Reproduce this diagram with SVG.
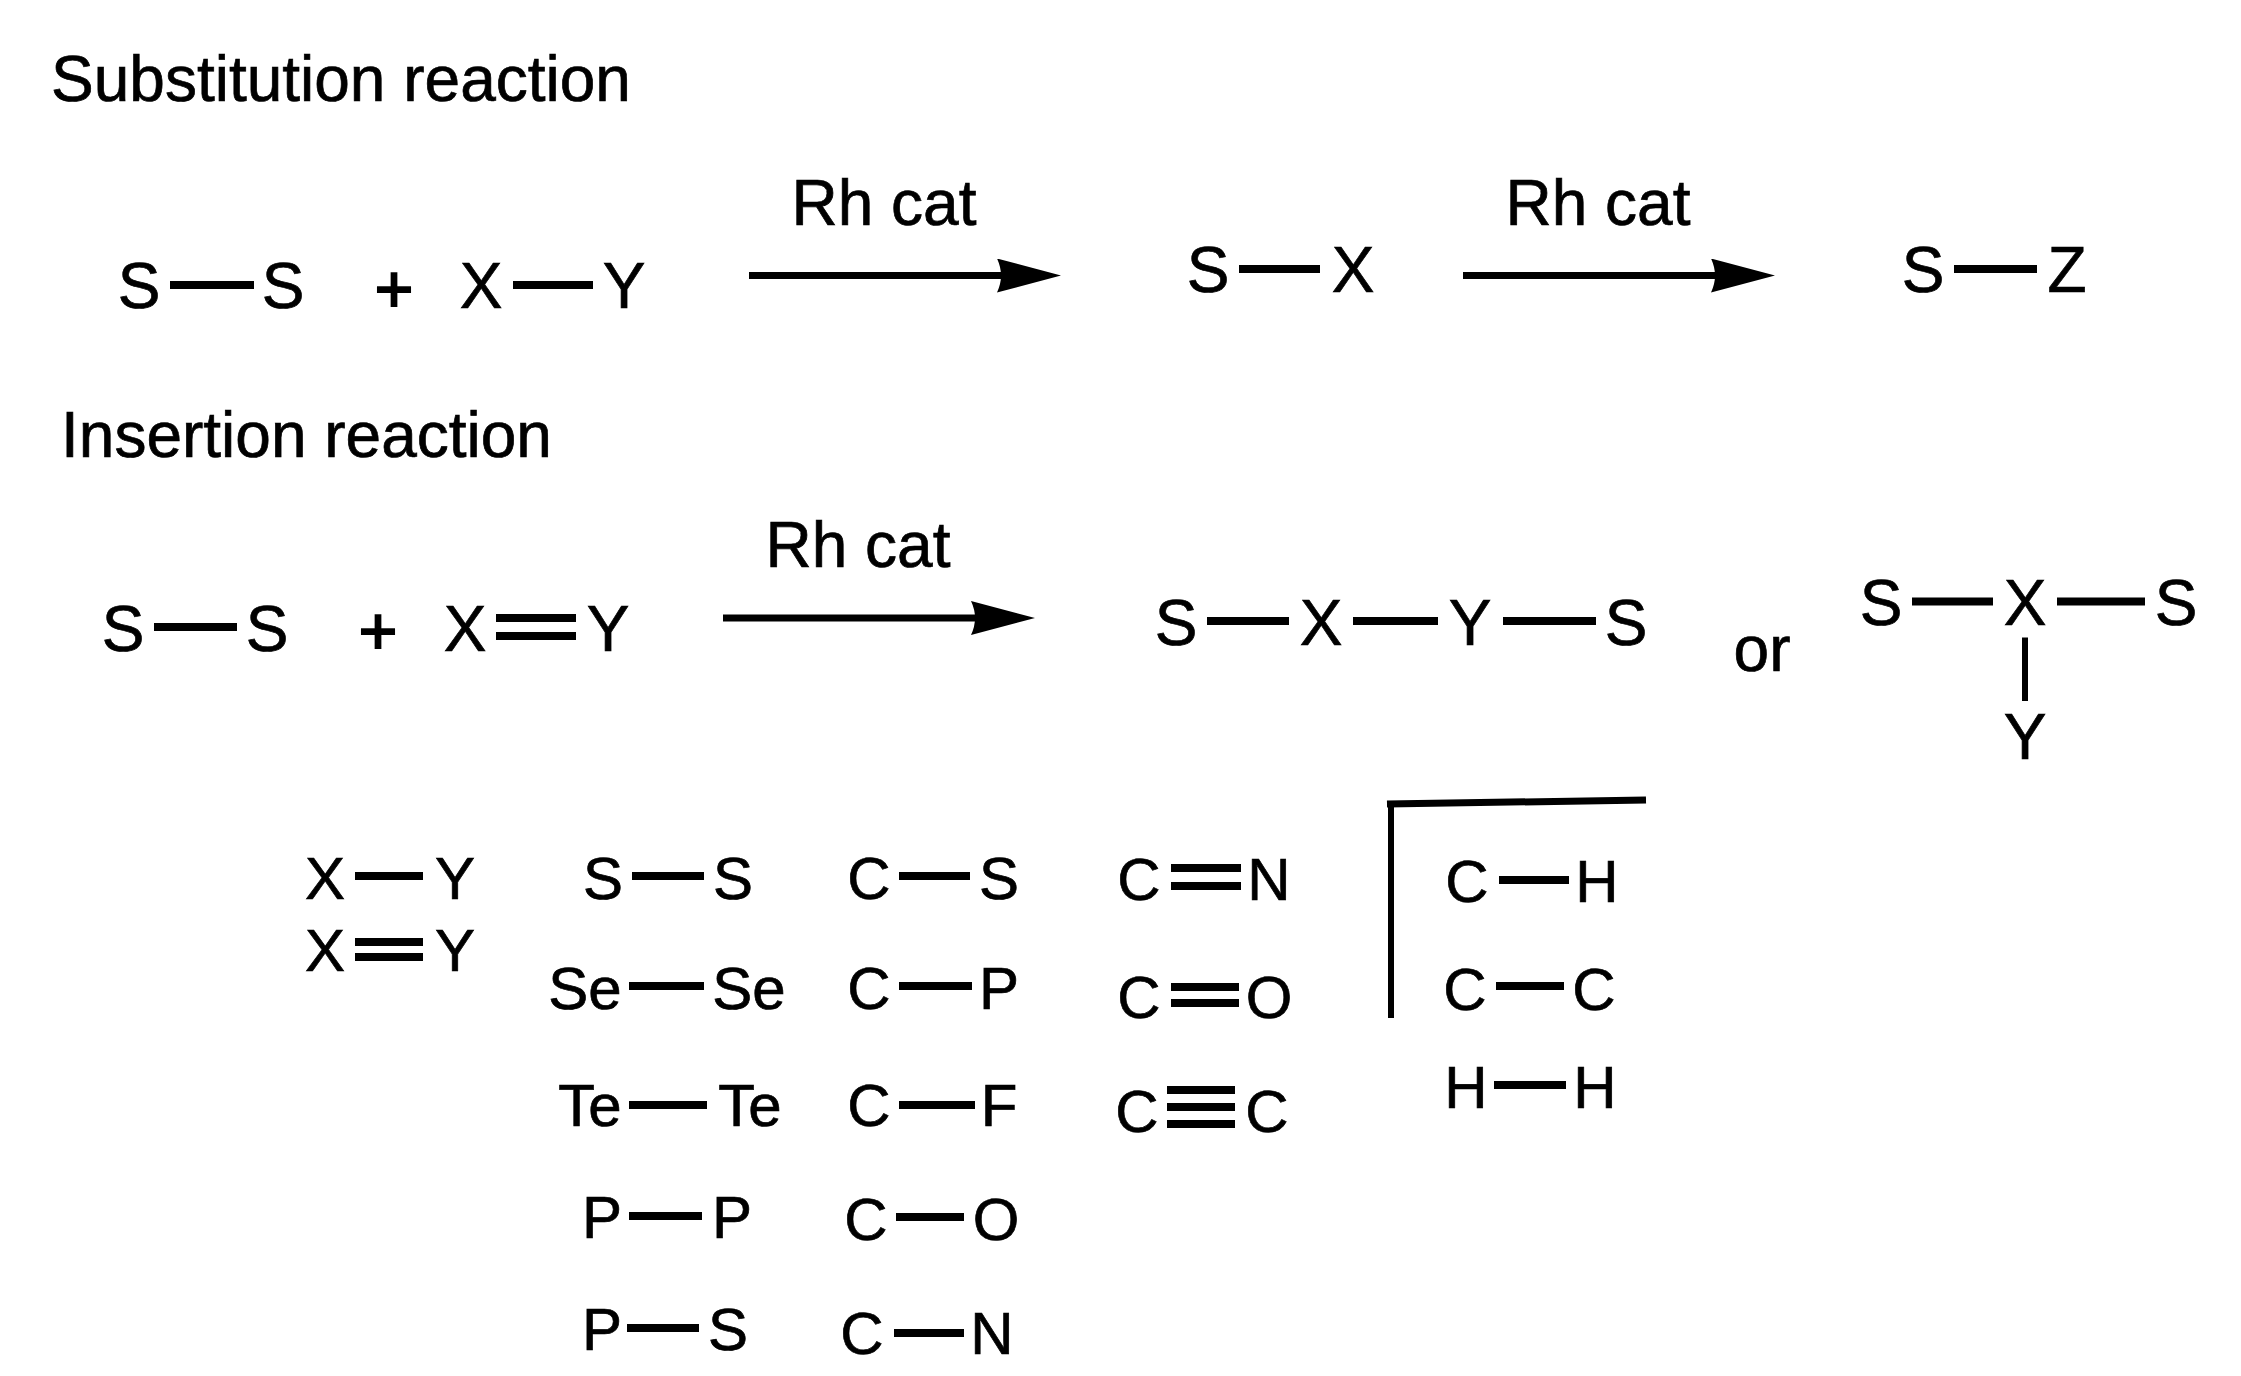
<svg xmlns="http://www.w3.org/2000/svg" width="2241" height="1376" viewBox="0 0 2241 1376">
<style>
text{font-family:"Liberation Sans",Arial,sans-serif;font-size:64px;fill:#000;stroke:#000;stroke-width:.7px;text-anchor:middle}
.title{text-anchor:start}
.low text{font-size:60px}
.b{stroke:#000;stroke-width:8;fill:none}
.a{stroke:#000;stroke-width:7;fill:none;marker-end:url(#head)}
.plus text{stroke-width:2px;font-size:66px}
</style>
<defs><marker id="head" markerUnits="userSpaceOnUse" markerWidth="64" markerHeight="34" viewBox="0 0 64 34" refX="4" refY="17" orient="auto"><path d="M0 0L64 17L0 34Q8 17 0 0Z" fill="#000"/></marker></defs>
<rect width="2241" height="1376" fill="#fff"/>
<g id="title-substitution"><text class="title" x="51" y="101">Substitution reaction</text></g>
<g id="title-insertion"><text class="title" x="61" y="457">Insertion reaction</text></g>
<g id="cat-1"><text x="884" y="225">Rh cat</text></g>
<g id="cat-2"><text x="1598" y="225">Rh cat</text></g>
<g id="cat-3"><text x="858" y="567">Rh cat</text></g>
<g id="r1-ss"><text x="139" y="308">S</text><text x="283" y="308">S</text></g>
<g id="r1-plus" class="plus"><text x="394" y="312">+</text></g>
<g id="r1-xy"><text x="481" y="308">X</text><text x="624" y="308">Y</text></g>
<g id="r1-sx"><text x="1208" y="292">S</text><text x="1353" y="292">X</text></g>
<g id="r1-sz"><text x="1923" y="292">S</text><text x="2067" y="292">Z</text></g>
<g id="r2-ss"><text x="123" y="651">S</text><text x="267" y="651">S</text></g>
<g id="r2-plus" class="plus"><text x="378" y="654">+</text></g>
<g id="r2-xy"><text x="465" y="651">X</text><text x="608" y="651">Y</text></g>
<g id="r2-chain"><text x="1176" y="645">S</text><text x="1321" y="645">X</text><text x="1470" y="645">Y</text><text x="1626" y="645">S</text></g>
<g id="or"><text x="1762" y="671">or</text></g>
<g id="r2-branch"><text x="1881" y="625">S</text><text x="2025" y="625">X</text><text x="2176" y="625">S</text><text x="2025" y="759">Y</text></g>
<g class="low">
<g id="l-xy"><text x="325" y="899">X</text><text x="455" y="899">Y</text></g>
<g id="l-xdy"><text x="325" y="971">X</text><text x="455" y="971">Y</text></g>
<g id="l-ss"><text x="603" y="899">S</text><text x="733" y="899">S</text></g>
<g id="l-sese"><text x="585" y="1009">Se</text><text x="749" y="1009">Se</text></g>
<g id="l-tete"><text x="590" y="1126">Te</text><text x="750" y="1126">Te</text></g>
<g id="l-pp"><text x="602" y="1238">P</text><text x="732" y="1238">P</text></g>
<g id="l-ps"><text x="602" y="1350">P</text><text x="728" y="1350">S</text></g>
<g id="l-cs"><text x="869" y="899">C</text><text x="999" y="899">S</text></g>
<g id="l-cp"><text x="869" y="1009">C</text><text x="999" y="1009">P</text></g>
<g id="l-cf"><text x="869" y="1126">C</text><text x="999" y="1126">F</text></g>
<g id="l-co"><text x="866" y="1240">C</text><text x="996" y="1240">O</text></g>
<g id="l-cn"><text x="862" y="1354">C</text><text x="992" y="1354">N</text></g>
<g id="l-cdn"><text x="1139" y="900">C</text><text x="1269" y="900">N</text></g>
<g id="l-cdo"><text x="1139" y="1018">C</text><text x="1269" y="1018">O</text></g>
<g id="l-ctc"><text x="1137" y="1132">C</text><text x="1267" y="1132">C</text></g>
<g id="l-ch"><text x="1467" y="902">C</text><text x="1597" y="902">H</text></g>
<g id="l-cc"><text x="1465" y="1010">C</text><text x="1594" y="1010">C</text></g>
<g id="l-hh"><text x="1466" y="1108">H</text><text x="1595" y="1108">H</text></g>
</g>
<g id="bracket"><path d="M1391 1018V801" stroke="#000" stroke-width="6" fill="none"/><path d="M1387 804L1646 800" stroke="#000" stroke-width="7" fill="none"/></g>
<g id="connectors">
<path class="a" d="M749 275.5H1001"/>
<path class="a" d="M1463 275.5H1715"/>
<path class="a" d="M723 618H975"/>
<path class="b" d="M170 285H254M513 285H593"/>
<path class="b" d="M1239 269H1320M1954 269H2037"/>
<path class="b" d="M154 627H237M496 618H576M496 636H576"/>
<path class="b" d="M1207 621H1289M1353 621H1438M1503 621H1596"/>
<path class="b" d="M1912 601.5H1993M2057 601.5H2145"/>
<path d="M2025 637.5V701" stroke="#000" stroke-width="6" fill="none"/>
<path class="b" d="M355 876H423M355 942H423M355 957H423"/>
<path class="b" d="M632 876H704M629 986H704M629 1105H707M629 1216H702M627 1328H699"/>
<path class="b" d="M899 876H970M899 986H972M899 1105H975M896 1217H964M894 1333H964"/>
<path class="b" d="M1171 868H1241M1171 886H1241M1171 987H1239M1171 1003H1239M1167 1090H1235M1167 1107H1235M1167 1124H1235"/>
<path class="b" d="M1499 880H1569M1496 986H1564M1494 1085H1566"/>
</g>
</svg>
